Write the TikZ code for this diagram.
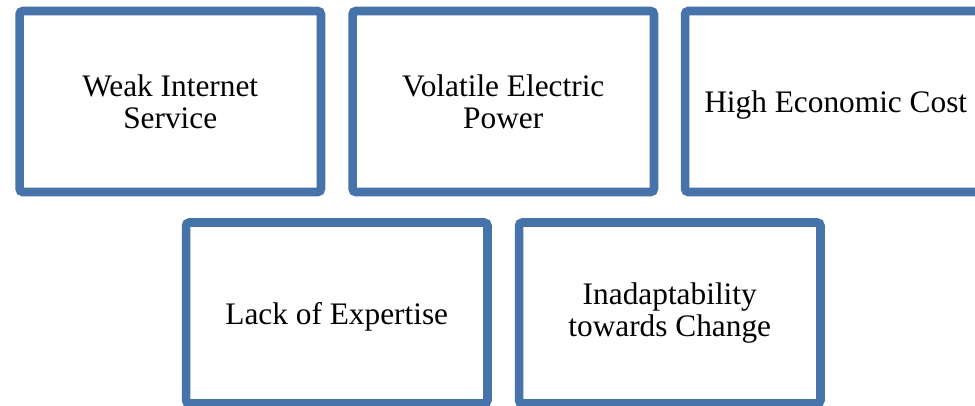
\documentclass[tikz,border=0pt]{standalone}
\usepackage{fontspec}
\setmainfont{Liberation Serif}
\usetikzlibrary{shadows.blur}
\definecolor{boxblue}{RGB}{70,115,170}
\begin{document}
\begin{tikzpicture}[x=0.75pt,y=-0.75pt,
  card/.style={draw=boxblue, line width=6.4pt, fill=white, rounded corners=2.5pt,
    minimum width=226.1pt, minimum height=135.75pt, inner sep=0pt,
    align=center, font=\fontsize{23.5}{24}\selectfont,
    blur shadow={shadow xshift=0.8pt, shadow yshift=-1.5pt, shadow blur steps=6,
      shadow blur radius=2pt, shadow opacity=35}}]
\useasboundingbox (0,0) rectangle (975,405);
\node[card] (weak) at (170.25,101.5) {Weak Internet\\Service};
\node[card] (volt) at (503.25,101.5) {Volatile Electric\\Power};
\node[card] (cost) at (835.75,101.5) {\raisebox{-2.5pt}[\height][\depth]{High Economic Cost}};
\node[card] (lack) at (336.75,313) {\raisebox{-2.5pt}[\height][\depth]{Lack of Expertise}};
\node[card] (inad) at (669.75,313) {Inadaptability\\towards Change};
\end{tikzpicture}
\end{document}
